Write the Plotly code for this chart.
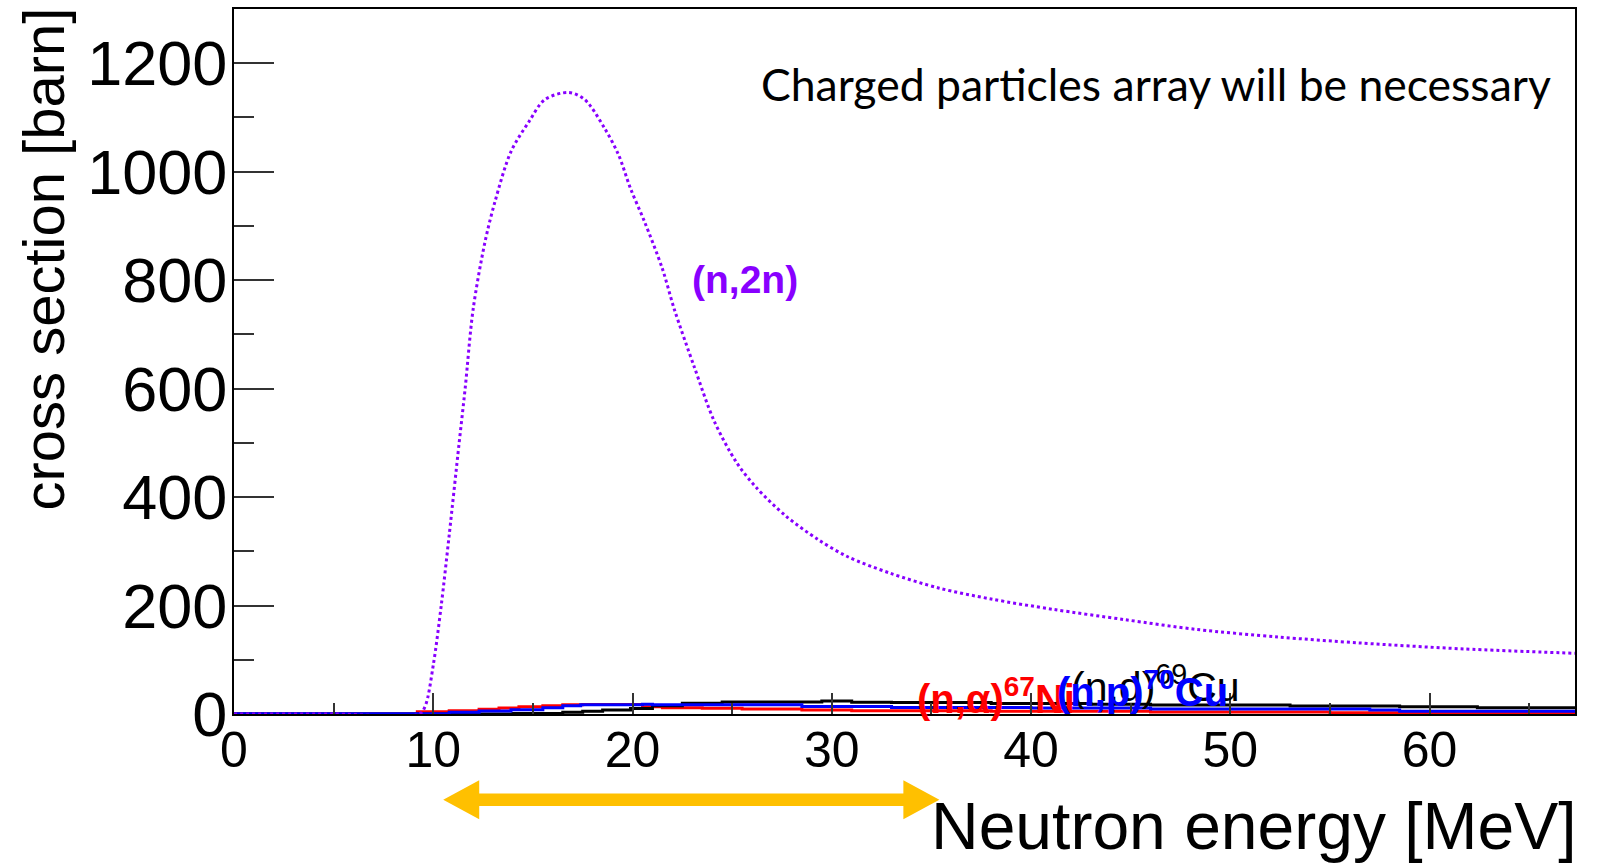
import plotly.graph_objects as go

# Axis extents
X_MAX = 67.3
Y_MAX = 1300

# (n,2n) excitation function: neutron energy [MeV] vs cross section [barn]
E_N2N = [0, 5, 9.3, 9.6, 10.0, 10.4, 10.8, 11.3, 11.6, 12.0, 12.6, 13.1, 13.9, 14.8,
         15.6, 16.8, 17.6, 18.6, 19.3, 19.9, 20.6, 21.5, 22.1, 23.1, 24.1, 25.2, 26.2,
         27.7, 29.3, 30.8, 32.9, 35.4, 38.0, 41.1, 44.7, 48.3, 52.4, 56.5, 61.7, 67.3]
XS_N2N = [0, 0, 0, 15, 90, 200, 330, 500, 600, 746, 871, 945, 1037, 1092,
          1133, 1146, 1133, 1080, 1031, 969, 908, 821, 746, 640, 540, 465, 418,
          365, 322, 290, 260, 232, 212, 193, 174, 156, 142, 131, 120, 112]

# Charged-particle channels as histograms: bin lower edges [MeV] and contents [barn]
ND_EDGES = [0, 14.0, 16.5, 17.5, 18.5, 19.9, 21.0, 22.5, 24.5, 29.5, 31.0, 33.0, 38.0,
            43.0, 46.0, 53.0, 58.5, 62.4]
ND_XS = [0, 1, 3, 5, 7.5, 10, 15, 20, 22, 24, 21.5, 21, 19.5, 18, 16.6, 14.7, 13.5, 11.7]

NP_EDGES = [0, 10.8, 12.3, 13.9, 15.5, 16.5, 17.4, 20.5, 21.0, 28.5, 33.0, 40.0, 46.0,
            57.0, 58.5]
NP_XS = [0.5, 3, 5.5, 8, 11.6, 15, 17, 18, 17, 14, 12, 11, 9.2, 7.4, 5]

NA_EDGES = [0, 9.2, 10.8, 12.3, 13.3, 14.3, 15.5, 16.5, 17.5, 20.5, 21.5, 23.5, 25.5,
            28.5, 31.0, 38.0, 46.0, 55.0, 58.5]
NA_XS = [0, 4, 6, 8.6, 11, 13.5, 15, 17, 17.5, 13.5, 11.6, 10.5, 9, 7.4, 6, 5, 3.7, 2.5, 1.3]

# Energy window marked by the double arrow below the axis [MeV]
ARROW_SPAN = (10.5, 35.4)

PURPLE = "#8800ff"
ORANGE = "#ffc000"
HELV = "Liberation Sans, Arial, Helvetica, sans-serif"

W, H = 1604, 864
L, R, T, B = 234, 29, 7, 150
plot_w = W - L - R
plot_h = H - T - B


def step(edges, values):
    xs = list(edges) + [X_MAX]
    ys = list(values) + [values[-1]]
    return xs, ys


def py(pixel_y):
    """Paper y coordinate of a pixel row of the page."""
    return (plot_h + T - pixel_y) / plot_h


def px(pixel_x):
    """Paper x coordinate of a pixel column of the page."""
    return (pixel_x - L) / plot_w


fig = go.Figure()

for edges, vals, color in [(NA_EDGES, NA_XS, "#ff0000"),
                           (ND_EDGES, ND_XS, "#000000"),
                           (NP_EDGES, NP_XS, "#0000ff")]:
    xs, ys = step(edges, vals)
    fig.add_trace(go.Scatter(x=xs, y=ys, mode="lines", line_shape="hv",
                             line=dict(color=color, width=3), hoverinfo="skip"))

fig.add_trace(go.Scatter(x=E_N2N, y=XS_N2N, mode="lines",
                         line=dict(color=PURPLE, width=3, dash="dot",
                                   shape="spline", smoothing=0.9),
                         hoverinfo="skip"))

# Double-headed arrow (x in MeV, y in paper units below the frame)
yc = py(800)
shaft = 6.3 / plot_h
head = 19.5 / plot_h
head_len = 36 / (plot_w / X_MAX)
a0, a1 = ARROW_SPAN
path = (f"M {a0},{yc} L {a0 + head_len},{yc + head} L {a0 + head_len},{yc + shaft} "
        f"L {a1 - head_len},{yc + shaft} L {a1 - head_len},{yc + head} L {a1},{yc} "
        f"L {a1 - head_len},{yc - head} L {a1 - head_len},{yc - shaft} "
        f"L {a0 + head_len},{yc - shaft} L {a0 + head_len},{yc - head} Z")
fig.add_shape(type="path", path=path, xref="x", yref="paper",
              fillcolor=ORANGE, line=dict(width=0), layer="above")

annotations = [
    dict(text="<b>(n,2n)</b>", x=25.65, y=801, xref="x", yref="y",
         xanchor="center", yanchor="middle", showarrow=False,
         font=dict(family=HELV, size=39, color=PURPLE)),
    dict(text="<b>(n,α)<sup>67</sup>Ni</b>", x=34.2, y=py(723), xref="x", yref="paper",
         xanchor="left", yanchor="bottom", showarrow=False,
         font=dict(family=HELV, size=40, color="#ff0000")),
    dict(text="(n,d)<sup>69</sup>Cu", x=41.9, y=py(712), xref="x", yref="paper",
         xanchor="left", yanchor="bottom", showarrow=False,
         font=dict(family=HELV, size=41, color="#000000")),
    dict(text="<b>(n,p)<sup>70</sup>Cu</b>", x=41.2, y=py(716), xref="x", yref="paper",
         xanchor="left", yanchor="bottom", showarrow=False,
         font=dict(family=HELV, size=40, color="#0000ff")),
    dict(text="Charged particles array will be necessary",
         x=px(1553), y=py(82),
         xref="paper", yref="paper", xanchor="right", yanchor="middle",
         showarrow=False, font=dict(family="Lato, Open Sans, sans-serif", size=44.5,
                                    color="#000000")),
    dict(text="cross section [barn]", textangle=-90,
         x=px(44), y=py(4),
         xref="paper", yref="paper", xanchor="center", yanchor="top",
         showarrow=False, font=dict(family=HELV, size=58, color="#000000")),
    dict(text="Neutron energy [MeV]", x=px(1579), y=py(826),
         xref="paper", yref="paper", xanchor="right", yanchor="middle",
         showarrow=False, font=dict(family=HELV, size=66, color="#000000")),
]

fig.update_layout(
    width=W, height=H,
    margin=dict(l=L, r=R, t=T, b=B),
    paper_bgcolor="white", plot_bgcolor="white",
    showlegend=False,
    annotations=annotations,
    xaxis=dict(range=[0, X_MAX], showgrid=False, zeroline=False,
               showline=True, mirror=True, linecolor="black", linewidth=2,
               ticks="inside", ticklen=21, tickwidth=1.5, tickcolor="#333",
               dtick=10, tick0=0, ticklabelstandoff=-9,
               minor=dict(ticks="inside", ticklen=11, tickwidth=1.5,
                          tickcolor="#333", dtick=5, showgrid=False),
               tickfont=dict(family=HELV, size=50, color="black")),
    yaxis=dict(range=[0, Y_MAX], showgrid=False, zeroline=False,
               showline=True, mirror=True, linecolor="black", linewidth=2,
               ticks="inside", ticklen=40, tickwidth=1.5, tickcolor="#333",
               dtick=200, tick0=0, ticklabelstandoff=-8,
               minor=dict(ticks="inside", ticklen=20, tickwidth=1.5,
                          tickcolor="#333", dtick=100, showgrid=False),
               tickfont=dict(family=HELV, size=63, color="black")),
)

fig.write_html("out.html")
